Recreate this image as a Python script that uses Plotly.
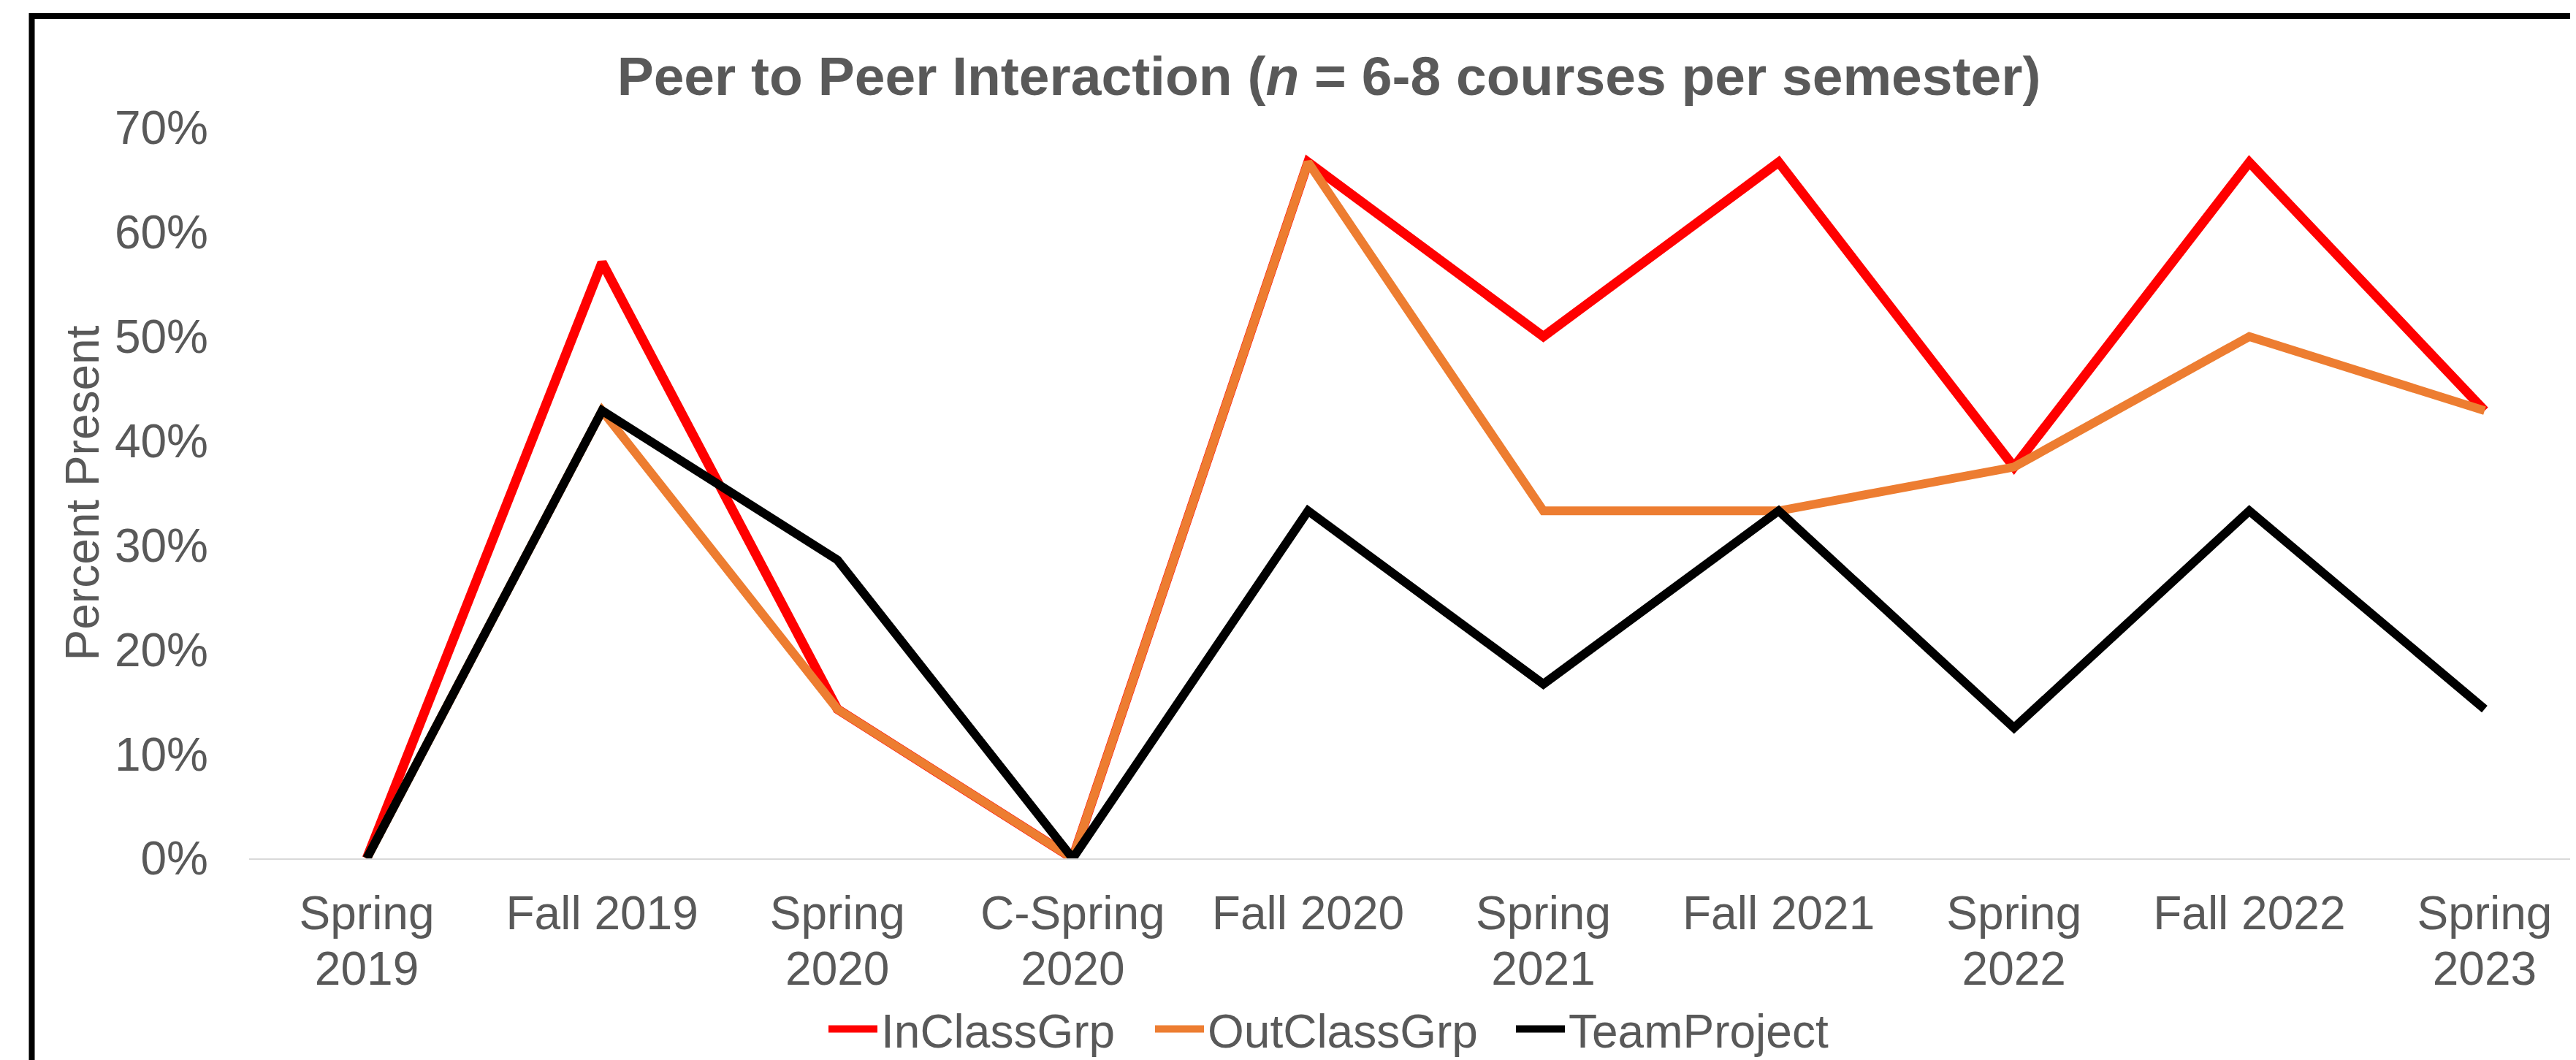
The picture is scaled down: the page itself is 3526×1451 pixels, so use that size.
import plotly.graph_objects as go

categories = ["Spring<br>2019", "Fall 2019", "Spring<br>2020", "C-Spring<br>2020", "Fall 2020",
              "Spring<br>2021", "Fall 2021", "Spring<br>2022", "Fall 2022", "Spring<br>2023"]
in_class_grp = [0.0, 0.571, 0.143, 0.0, 0.667, 0.50, 0.667, 0.375, 0.667, 0.429]
out_class_grp = [0.0, 0.429, 0.143, 0.0, 0.667, 0.333, 0.333, 0.375, 0.50, 0.429]
team_project = [0.0, 0.429, 0.286, 0.0, 0.333, 0.167, 0.333, 0.125, 0.333, 0.143]
y_tick_vals = [0.0, 0.1, 0.2, 0.3, 0.4, 0.5, 0.6, 0.7]
y_tick_text = ["0%", "10%", "20%", "30%", "40%", "50%", "60%", "70%"]
grid_vals = [0.1, 0.2, 0.3, 0.4, 0.5, 0.6, 0.7]

cat_line1 = [c.split("<br>")[0] for c in categories]
cat_line2 = [c.split("<br>")[1] if "<br>" in c else "" for c in categories]

FONT = "Liberation Sans, Arial, sans-serif"
TXT = "#595959"
OFF = 8                      # page body margin
W, H = 3526 - OFF, 1451 - OFF
L, T, B = 341 - OFF, 175 - OFF, 276
plot_w = W - L
plot_h = H - T - B
cat_px = 322.1

fig = go.Figure()
series = [("InClassGrp", in_class_grp, "#FF0000", 13, "legend", 1135),
          ("OutClassGrp", out_class_grp, "#ED7D31", 12, "legend2", 1582),
          ("TeamProject", team_project, "#000000", 12, "legend3", 2076)]
x_idx = list(range(len(categories)))
for name, vals, col, lw, lg, _ in series:
    fig.add_trace(go.Scatter(x=x_idx, y=vals, name=name, mode="lines",
                             line=dict(color=col, width=lw), yaxis="y2", legend=lg))
# an invisible trace to register xaxis2 (second line of category labels)
fig.add_trace(go.Scatter(x=[], y=[], xaxis="x2", yaxis="y2", showlegend=False, hoverinfo="skip"))

xr = [-0.5, -0.5 + plot_w / cat_px]
legend_common = dict(orientation="h", xanchor="left", y=(1175 - 1409) / plot_h, yanchor="middle",
                     font=dict(size=64, color=TXT), itemwidth=67, bgcolor="rgba(0,0,0,0)")
legends = {}
for name, vals, col, lw, lg, xpix in series:
    legends[lg] = dict(legend_common, x=(xpix - 6 - 341) / plot_w)

fig.update_layout(
    width=W, height=H,
    margin=dict(l=L, r=0, t=T, b=B, autoexpand=False),
    paper_bgcolor="white", plot_bgcolor="white",
    font=dict(family=FONT, color=TXT, size=64),
    title=dict(text="<b>Peer to Peer Interaction (<i>n</i> = 6-8 courses per semester)</b>",
               font=dict(size=75, color=TXT, family=FONT),
               x=(1819 - OFF) / W, xref="container", xanchor="center",
               y=1 - (104 - OFF) / H, yref="container", yanchor="middle"),
    xaxis=dict(range=xr, tickmode="array",
               tickvals=x_idx, ticktext=cat_line1, showgrid=False, zeroline=False,
               showline=True, linecolor="#D9D9D9", linewidth=2,
               ticks="", tickfont=dict(size=64, color=TXT), ticklabelstandoff=18),
    xaxis2=dict(range=xr, overlaying="x", side="bottom", anchor="y", tickmode="array",
                tickvals=x_idx, ticktext=cat_line2, showgrid=False, zeroline=False,
                showline=False, ticks="", tickfont=dict(size=64, color=TXT),
                ticklabelstandoff=18 + 90),
    yaxis=dict(range=[0, 0.7], tickmode="array", tickvals=grid_vals,
               showticklabels=False, showgrid=True, gridcolor="#D0CECE", gridwidth=7,
               zeroline=False, showline=False, ticks=""),
    yaxis2=dict(range=[0, 0.7], overlaying="y", side="left", tickmode="array",
                tickvals=y_tick_vals, ticktext=y_tick_text, showgrid=False,
                zeroline=False, showline=False, ticks="",
                tickfont=dict(size=64, color=TXT), ticklabelstandoff=55,
                title=dict(text="Percent Present", font=dict(size=64, color=TXT), standoff=0)),
    showlegend=True,
    **legends,
)

# chart-area border (extends beyond the visible crop on the right/bottom)
fig.add_shape(type="rect", xref="paper", yref="paper",
              x0=(43.5 - 341) / plot_w, x1=(3598 - 341) / plot_w,
              y0=(1175 - 1600) / plot_h, y1=(1175 - 22) / plot_h,
              line=dict(color="black", width=8), fillcolor="rgba(0,0,0,0)", layer="above")

fig.write_html("out.html")
